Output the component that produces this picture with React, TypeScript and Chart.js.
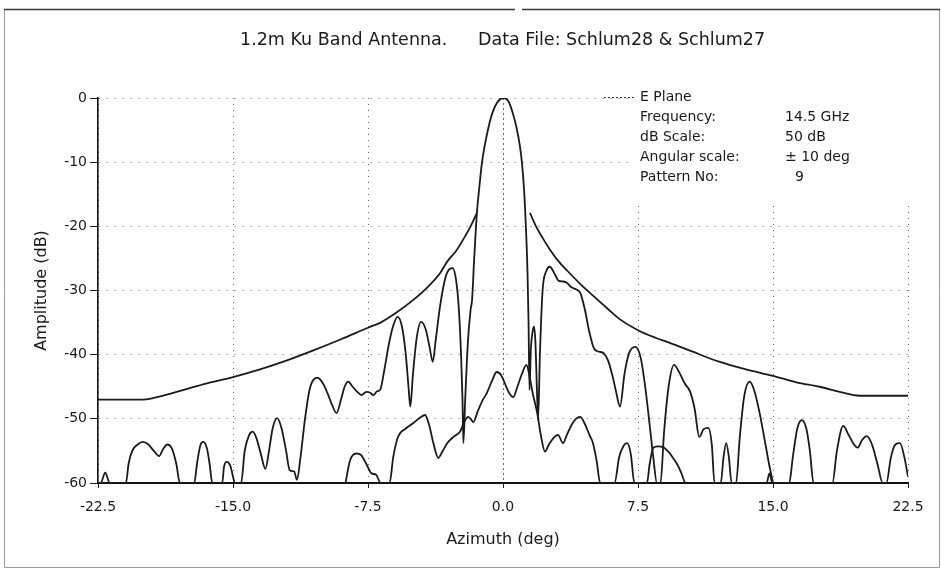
import React, { useEffect, useRef } from "react";
import { Chart, registerables } from "chart.js";

Chart.register(...registerables);

// ---- tick values ----
const xTickValues = [-22.5, -15, -7.5, 0, 7.5, 15, 22.5];
const yTickValues = [0, -10, -20, -30, -40, -50, -60];

// ---- texts ----
const titlePart1 = "1.2m Ku Band Antenna.";
const titlePart2 = "Data File: Schlum28 & Schlum27";
const xAxisTitle = "Azimuth (deg)";
const yAxisTitle = "Amplitude (dB)";
const infoLabels = ["E Plane", "Frequency:", "dB Scale:", "Angular scale:", "Pattern No:"];
const infoValues = ["", "14.5 GHz", "50 dB", "\u00b1 10 deg", "9"];

// ---- envelope (mask) ----
const envAz = [-22.5, -20, -19.5, -18.5, -17.5, -16.5, -15, -13.5, -12, -10.5, -9, -7.5, -6.8, -6, -5, -4.2, -3.5, -3.1, -2.6, -2.2, -1.8, -1.45,
  0,
  1.5, 1.8, 2.2, 2.6, 3.1, 3.6, 4.3, 5, 5.8, 6.5, 7.5, 8.5, 9.3, 10.5, 12, 13.5, 15, 16.3, 17.6, 18.7, 19.8, 22.5];
const envDb = [-47, -47, -46.8, -46.1, -45.3, -44.5, -43.5, -42.3, -40.9, -39.3, -37.6, -35.8, -35.0, -33.6, -31.5, -29.5, -27.3, -25.5, -23.8, -22, -20, -17.9,
  null,
  -17.9, -19.8, -21.8, -23.6, -25.5, -27, -29, -30.8, -32.8, -34.5, -36.2, -37.4, -38.2, -39.5, -41.1, -42.3, -43.3, -44.3, -45, -45.8, -46.4, -46.4];

// ---- co-polar pattern ----
const coAz = [-22.5, -22.35, -22.1, -21.85, -20.95, -20.8, -20.6, -20.3, -20.0, -19.7, -19.4, -19.1, -18.9, -18.65, -18.4, -18.15, -17.95,
  -17.15, -17.0, -16.8, -16.65, -16.45, -16.3, -16.15, -15.6, -15.5, -15.35, -15.15, -15.0, -14.9, -14.55, -14.35, -14.1, -13.9, -13.7,
  -13.45, -13.2, -13.0, -12.8, -12.55, -12.3, -12.05, -11.85, -11.6, -11.45, -11.25, -11.0, -10.75, -10.5, -10.3, -10.0, -9.75, -9.5,
  -9.25, -9.0, -8.8, -8.6, -8.35, -8.1, -7.85, -7.6, -7.4, -7.2, -7.0, -6.83, -6.6, -6.35, -6.1, -5.85, -5.6, -5.4, -5.25, -5.15, -5.0,
  -4.8, -4.55, -4.3, -4.1, -3.9, -3.75, -3.5, -3.2, -2.95, -2.8, -2.6, -2.45, -2.33, -2.25, -2.2, -2.1, -1.95, -1.8, -1.72, -1.6, -1.45,
  -1.3, -1.17, -0.9, -0.6, -0.3, 0.05, 0.3, 0.55, 0.75, 0.94, 1.05, 1.17, 1.28, 1.36, 1.42, 1.47, 1.55, 1.64, 1.72, 1.8, 1.88, 1.95,
  2.05, 2.2, 2.4, 2.6, 2.85, 3.1, 3.35, 3.55, 3.8, 4.05, 4.3, 4.55, 4.8, 5.05, 5.3, 5.6, 5.85, 6.1, 6.3, 6.5, 6.75, 7.0, 7.35, 7.65,
  7.9, 8.15, 8.35, 8.55, 8.75, 8.95, 9.2, 9.5, 9.8, 10.1, 10.4, 10.65, 10.9, 11.15, 11.4, 11.6, 11.75, 12.1, 12.25, 12.4, 12.55, 12.7,
  12.95, 13.15, 13.4, 13.7, 13.95, 14.25, 14.55, 14.85, 15.05, 15.9, 16.1, 16.35, 16.6, 16.85, 17.05, 17.25, 18.3, 18.55, 18.9, 19.2,
  19.5, 19.7, 19.95, 20.2, 20.5, 20.8, 21.1, 21.3, 21.55, 21.8, 22.05, 22.3, 22.5];
const coDb = [-60, -60, -58.4, -60, -60, -57, -55, -54, -53.6, -54, -55, -55.8, -54.8, -54, -54.6, -57, -60,
  -60, -57, -54, -53.6, -54.6, -57, -60, -60, -57.5, -56.7, -57.3, -59, -60, -60, -55, -52.5, -52, -53,
  -55.5, -57.8, -55, -51.5, -49.9, -51.5, -55, -58, -58.2, -59.5, -56, -50, -45.5, -43.8, -43.6, -44.5, -46, -47.8,
  -49.1, -47, -45, -44.2, -45, -45.8, -46.3, -45.8, -45.9, -46.3, -45.7, -45.5, -42.5, -38.5, -35.5, -34.1, -35.8, -40, -45, -48.1, -43,
  -37.5, -34.9, -36, -38.5, -41.1, -38, -32.5, -28, -26.6, -26.5, -28.5, -33, -40, -47, -53.8, -47, -38, -33, -31.5, -25, -17.9,
  -13.5, -10.1, -5.8, -2.4, -0.6, 0, -0.5, -2.4, -4.6, -7.5, -10, -14.3, -20.6, -27, -35, -45.5, -39, -36.5, -35.6, -38, -45, -50.2,
  -40, -30, -27, -26.3, -27.3, -28.5, -28.6, -28.8, -29.5, -29.8, -30.4, -33, -36.5, -39, -39.5, -39.8, -41, -43.5, -46, -48.1, -43, -39.8, -38.8, -40.5,
  -45, -51, -56, -60, -60, -52, -45, -41.6, -42.8, -44.5, -45.8, -48.5, -52.8, -51.6, -51.4, -54, -60, -60, -56, -53.8, -56, -60,
  -60, -53, -46.5, -44.2, -45.5, -49, -53.5, -58, -60, -60, -56, -51.5, -50.2, -51.5, -55, -60, -60, -55, -51.1, -52.5,
  -54, -54.5, -53.3, -52.7, -54, -57, -60, -60, -56, -54, -53.8, -56, -59];

// ---- cross-polar pattern ----
const xpAz = [-8.75, -8.5, -8.15, -7.9, -7.6, -7.3, -7.05, -6.8, -6.3, -6.1, -5.83, -5.4, -5.0, -4.6, -4.33, -4.1, -3.85, -3.6, -3.35,
  -3.1, -2.75, -2.39, -2.15, -1.94, -1.8, -1.65, -1.4, -1.15, -0.9, -0.6, -0.35, -0.1, 0.15, 0.35, 0.57, 0.8, 1.05, 1.3, 1.45, 1.65,
  1.9, 2.1, 2.33, 2.55, 2.8, 3.06, 3.33, 3.55, 3.8, 4.05, 4.28, 4.55, 4.8, 5.0, 5.2, 5.4, 6.2, 6.45, 6.7, 6.9, 7.1, 7.3, 8.0, 8.15,
  8.35, 8.6, 8.9, 9.15, 9.4, 9.7, 9.9, 10.15, 14.65, 14.8, 14.95];
const xpDb = [-60, -56.5, -55.4, -55.6, -57, -58.5, -58.7, -60, -60, -56, -52.8, -51.5, -50.7, -49.8, -49.4, -51, -54, -56.1, -55,
  -53.8, -52.8, -52, -50.5, -49.7, -50, -50.5, -48.8, -47.2, -46, -44, -42.7, -43.2, -44.8, -46, -46.6, -45, -43, -41.6, -43, -46,
  -49.1, -52.5, -55.1, -54, -53, -52.5, -53.8, -52.5, -51, -50, -49.7, -50.8, -52.5, -53.8, -56.5, -60, -60, -56, -54.2, -53.8, -55.5, -60, -60, -57,
  -54.5, -54.3, -54.4, -55, -55.9, -57.2, -58.4, -60, -60, -58.5, -60];

const FONT = '"DejaVu Sans", "Liberation Sans", Arial, sans-serif';
const INK = "#1a1a1a";

export default function App() {
  const ref = useRef<HTMLCanvasElement>(null);

  useEffect(() => {
    const canvas = ref.current;
    if (!canvas) return;

    const toPts = (xs: number[], ys: (number | null)[]) => xs.map((x, i) => ({ x, y: ys[i] }));
    const trace = (label: string, xs: number[], ys: (number | null)[]) => ({
      label,
      data: toPts(xs, ys),
      borderColor: INK,
      borderWidth: 1.8,
      pointRadius: 0,
      fill: false,
      tension: 0,
      cubicInterpolationMode: "monotone" as const,
      spanGaps: false,
    });

    const decor = {
      id: "decor",
      beforeDraw(chart: any) {
        const { ctx, width, height } = chart;
        ctx.save();
        ctx.fillStyle = "#ffffff";
        ctx.fillRect(0, 0, width, height);
        // figure frame
        ctx.strokeStyle = "#9a9a9a";
        ctx.lineWidth = 1;
        ctx.beginPath();
        ctx.moveTo(4.5, 9.5);
        ctx.lineTo(4.5, 567.5);
        ctx.lineTo(939.5, 567.5);
        ctx.lineTo(939.5, 9.5);
        ctx.stroke();
        ctx.strokeStyle = "#3a3a3a";
        ctx.lineWidth = 1.5;
        ctx.beginPath();
        ctx.moveTo(4, 9.5);
        ctx.lineTo(515, 9.5);
        ctx.moveTo(522, 9.5);
        ctx.lineTo(940, 9.5);
        ctx.stroke();
        ctx.restore();
      },
      beforeDatasetsDraw(chart: any) {
        const { ctx } = chart;
        ctx.save();
        ctx.fillStyle = "#ffffff";
        ctx.fillRect(634, 84, 290, 122);
        ctx.restore();
      },
      afterDraw(chart: any) {
        const { ctx, chartArea } = chart;
        ctx.save();
        ctx.fillStyle = INK;
        // title
        ctx.font = `17.5px ${FONT}`;
        ctx.textBaseline = "middle";
        ctx.textAlign = "left";
        ctx.fillText(titlePart1, 240, 40);
        ctx.fillText(titlePart2, 478, 40);
        // axis titles
        ctx.font = `16px ${FONT}`;
        ctx.textAlign = "center";
        ctx.fillText(xAxisTitle, (chartArea.left + chartArea.right) / 2, 540);
        ctx.save();
        ctx.translate(42, (chartArea.top + chartArea.bottom) / 2);
        ctx.rotate(-Math.PI / 2);
        ctx.fillText(yAxisTitle, 0, 0);
        ctx.restore();
        // info block
        ctx.font = `14px ${FONT}`;
        ctx.textAlign = "left";
        infoLabels.forEach((t, i) => {
          const y = 97 + i * 20;
          ctx.fillText(t, 640, y);
          if (infoValues[i]) ctx.fillText(infoValues[i], i === 4 ? 795 : 785, y);
        });
        // legend line sample
        ctx.strokeStyle = "#333";
        ctx.lineWidth = 1;
        ctx.setLineDash([2, 2]);
        ctx.beginPath();
        ctx.moveTo(604, 97.5);
        ctx.lineTo(635, 97.5);
        ctx.stroke();
        ctx.restore();
      },
    };

    const chart = new Chart(canvas, {
      type: "line",
      data: {
        datasets: [
          trace("Envelope", envAz, envDb),
          trace("E Plane co-polar", coAz, coDb),
          trace("E Plane cross-polar", xpAz, xpDb),
        ],
      },
      options: {
        responsive: false,
        animation: false,
        devicePixelRatio: 1,
        layout: { padding: { top: 98, right: 33, left: 0, bottom: 0 } },
        plugins: {
          legend: { display: false },
          tooltip: { enabled: false },
          title: { display: false },
        },
        scales: {
          x: {
            type: "linear",
            min: -22.5,
            max: 22.5,
            afterBuildTicks: (s: any) => {
              s.ticks = xTickValues.map((v) => ({ value: v }));
            },
            afterFit: (s: any) => {
              s.height = 87;
            },
            ticks: {
              callback: (v: any) => Number(v).toFixed(1),
              color: INK,
              font: { family: FONT, size: 14 },
              padding: 11,
              maxRotation: 0,
              autoSkip: false,
            },
            grid: {
              color: "#6a6a6a",
              lineWidth: 1,
              tickLength: 5,
              tickColor: INK,
              drawTicks: true,
            },
            border: {
              display: true,
              color: "#111",
              width: 2,
              dash: (ctx: any) => (ctx.tick && ctx.tick.value === 0 ? [2, 3] : [1, 5]),
            },
          },
          y: {
            type: "linear",
            min: -60,
            max: 0,
            afterBuildTicks: (s: any) => {
              s.ticks = yTickValues.map((v) => ({ value: v }));
            },
            afterFit: (s: any) => {
              s.width = 98;
            },
            ticks: {
              color: INK,
              font: { family: FONT, size: 14 },
              padding: 3,
              autoSkip: false,
            },
            grid: {
              color: "#6a6a6a",
              lineWidth: 1,
              tickLength: 8,
              tickColor: INK,
              drawTicks: true,
            },
            border: {
              display: true,
              color: "#111",
              width: 1.6,
              dash: [1, 7],
            },
          },
        },
      },
      plugins: [decor],
    } as any);

    return () => chart.destroy();
  }, []);

  return (
    <div style={{ position: "absolute", left: 0, top: 0, width: 941, height: 570, background: "#fff" }}>
      <canvas ref={ref} width={941} height={570} style={{ display: "block", width: 941, height: 570 }} />
    </div>
  );
}
